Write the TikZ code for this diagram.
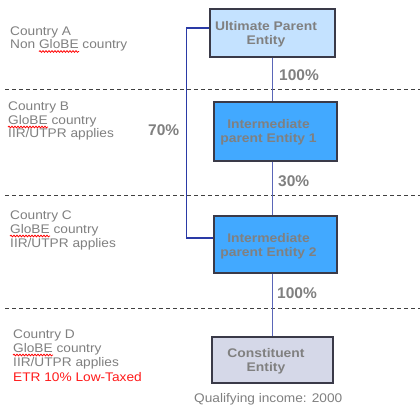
\documentclass[tikz,border=0pt]{standalone}
\usepackage{fontspec}
\setmainfont{Liberation Sans}
\newfontfamily\widesans[FakeStretch=1.095]{Liberation Sans}
\newfontfamily\widesansb[FakeStretch=1.11]{Liberation Sans}
\usetikzlibrary{decorations.pathmorphing}
\definecolor{txt}{HTML}{808080}
\definecolor{dgray}{HTML}{404040}
\definecolor{bord}{HTML}{3A3A48}
\definecolor{upefill}{HTML}{C4E2FF}
\definecolor{ipefill}{HTML}{42A9FF}
\definecolor{cefill}{HTML}{D5D8E8}
\definecolor{lnk}{HTML}{5A66B8}
\definecolor{brkc}{HTML}{2A3AA6}
\definecolor{etr}{HTML}{FF1A1A}
\newcommand\labfont{\widesans\fontsize{12.5}{14}\selectfont}
\newcommand\boxfont{\widesansb\fontsize{12.5}{14}\selectfont\bfseries}
\newcommand\pctfont{\fontsize{15.5}{15}\selectfont\bfseries}
\begin{document}
\begin{tikzpicture}[x=1pt,y=-1pt,
  lbl/.style={font=\labfont, text=txt, inner sep=0pt, anchor=base west},
  btxt/.style={font=\boxfont, text=txt, inner sep=0pt, anchor=base},
  pct/.style={font=\pctfont, text=txt, inner sep=0pt, anchor=base west},
  sep/.style={draw=dgray, line width=0.9pt, dash pattern=on 4pt off 3pt},
  ent/.style={draw=bord, line width=1.2pt, inner sep=0pt},
  link/.style={draw=lnk, line width=1.6pt},
  brk/.style={draw=brkc, line width=1.2pt},
  sq/.style={draw=red, line width=0.8pt, decorate, decoration={snake, amplitude=0.8pt, segment length=3pt}}]
\useasboundingbox (0,0) rectangle (420,408);
\fill[white] (0,0) rectangle (420,408);

% separators
\draw[sep] (5,89) -- (420,89);
\draw[sep] (5,195) -- (420,195);
\draw[sep] (5,308) -- (420,308);

% entities
\node[ent, fill=upefill, minimum width=125pt, minimum height=48pt] (upe) at (272.5,33) {};
\node[ent, fill=ipefill, minimum width=123pt, minimum height=59pt] (ipe1) at (275.5,131.5) {};
\node[ent, fill=ipefill, minimum width=123pt, minimum height=57pt] (ipe2) at (275.5,244.5) {};
\node[ent, fill=cefill, minimum width=121pt, minimum height=46pt] (ce) at (272.5,360) {};

\node[btxt] (upet1) at (266,30) {Ultimate Parent};
\node[btxt] (upet2) at (266,44) {Entity};
\node[btxt] (ip1t1) at (268.5,128) {Intermediate};
\node[btxt] (ip1t2) at (268.5,142) {parent Entity 1};
\node[btxt] (ip2t1) at (268.5,242) {Intermediate};
\node[btxt] (ip2t2) at (268.5,256) {parent Entity 2};
\node[btxt] (cet1) at (266,357) {Constituent};
\node[btxt] (cet2) at (266,371) {Entity};

% connectors
\draw[link] (upe.south) -- (upe.south |- ipe1.north);
\draw[link] (upe.south |- ipe1.south) -- (upe.south |- ipe2.north);
\draw[link] (upe.south |- ipe2.south) -- (ce.north);
\draw[brk] ([yshift=5pt]upe.west) -- ++(-23,0) |- ([yshift=6.5pt]ipe2.west);

% percentages
\node[pct] (p1) at (279,80) {100\%};
\node[pct] (p2) at (278,186) {30\%};
\node[pct] (p3) at (148,135) {70\%};
\node[pct] (p4) at (277,298) {100\%};

% country labels
\node[lbl] (a1) at (10,35) {Country A};
\node[lbl] (a2) at (10,48.5) {Non GloBE country};
\node[lbl] (b1) at (8,110) {Country B};
\node[lbl] (b2) at (8,124) {GloBE country};
\node[lbl] (b3) at (8,137.5) {IIR/UTPR applies};
\node[lbl] (c1) at (10,219) {Country C};
\node[lbl] (c2) at (10,233) {GloBE country};
\node[lbl] (c3) at (10,247) {IIR/UTPR applies};
\node[lbl] (d1) at (13,338) {Country D};
\node[lbl] (d2) at (13,352) {GloBE country};
\node[lbl] (d3) at (13,366.5) {IIR/UTPR applies};
\node[lbl, text=etr] (d4) at (13,381) {ETR 10\% Low-Taxed};

\node[lbl] (qi) at (194,402) {Qualifying income: 2000};

% spell-check squiggles
\draw[sq] (39,51.5) -- (79,51.5);
\draw[sq] (8,127) -- (48,127);
\draw[sq] (10,236) -- (50,236);
\draw[sq] (13,355) -- (53,355);
\end{tikzpicture}
\end{document}
